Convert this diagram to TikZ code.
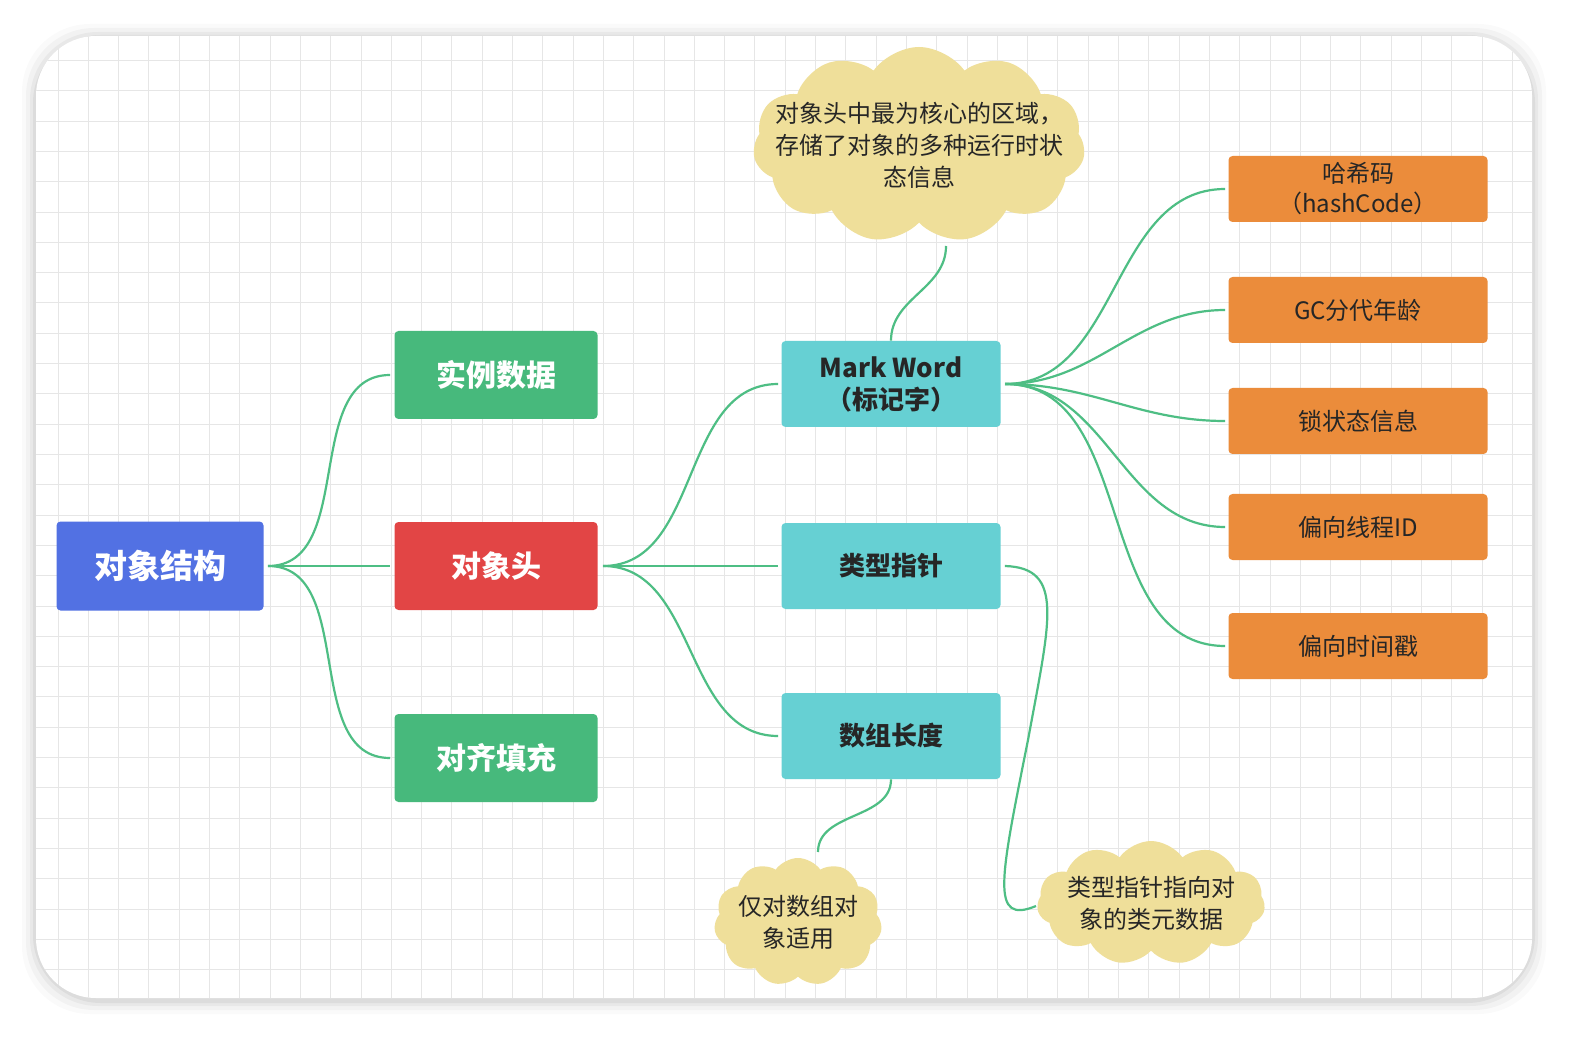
\documentclass[tikz,border=0pt]{standalone}
\usepackage{fontspec}
\setmainfont{Noto Sans CJK SC}
\usetikzlibrary{shapes.symbols}
\definecolor{rootc}{HTML}{5271E3}
\definecolor{greenc}{HTML}{47B97C}
\definecolor{redc}{HTML}{E24545}
\definecolor{tealc}{HTML}{66D0D3}
\definecolor{orangec}{HTML}{EB8C3B}
\definecolor{cloudc}{HTML}{EFDF9A}
\definecolor{linec}{HTML}{4EBE84}
\definecolor{gridc}{HTML}{E6E6E6}
\tikzset{
  box/.style={rectangle, rounded corners=2pt, inner sep=0pt, text=white, font=\bfseries\fontsize{15}{18}\selectfont, align=center},
  rootbox/.style={box, fill=rootc, minimum width=103.5pt, minimum height=44.5pt, font=\bfseries\fontsize{16.5}{20}\selectfont},
  gbox/.style={box, fill=greenc, minimum width=101.5pt, minimum height=44pt},
  rbox/.style={box, fill=redc, minimum width=101.5pt, minimum height=44pt},
  tbox/.style={box, fill=tealc, text=black!85, minimum width=109.5pt, minimum height=43pt, font=\bfseries\fontsize{13}{16}\selectfont},
  obox/.style={box, fill=orangec, text=black!85, minimum width=129.5pt, minimum height=33pt, font=\fontsize{12}{15}\selectfont},
  cl/.style={cloud, cloud puffs=11, cloud puff arc=110, aspect=1.7, fill=cloudc, inner sep=0pt},
  cltext/.style={align=center, font=\fontsize{12}{16}\selectfont, text=black!85, inner sep=0pt},
  conn/.style={draw=linec, line width=1.1pt}
}
\begin{document}
\begin{tikzpicture}[x=0.5pt,y=-0.5pt]
\useasboundingbox (0,0) rectangle (1578,1042);
\fill[white] (0,0) rectangle (1578,1042);
\foreach \i/\o in {14/0.02,10/0.03,6/0.04,3/0.05}{
  \fill[black,opacity=\o,rounded corners=34] (36-\i,38-\i) rectangle (1532+\i,1000+\i);
}
\fill[white,rounded corners=30] (36,36) rectangle (1532,998);
\begin{scope}
\clip[rounded corners=30] (36,36) rectangle (1532,998);
\foreach \x in {58,88.3,...,1532} \draw[gridc,line width=0.5pt] (\x,36) -- (\x,998);
\foreach \y in {0,30.3,...,998} \draw[gridc,line width=0.5pt] (36,\y) -- (1532,\y);
\end{scope}

\node[rootbox] (root) at (160,566) {对象结构};
\node[gbox] (inst) at (496,375) {实例数据};
\node[rbox] (head) at (496,566) {对象头};
\node[gbox] (pad) at (496,758) {对齐填充};
\node[tbox] (mw) at (891,384) {Mark Word\\（标记字）};
\node[tbox] (tp) at (891,566) {类型指针};
\node[tbox] (al) at (891,736) {数组长度};
\node[obox] (o1) at (1358,189) {哈希码\\（hashCode）};
\node[obox] (o2) at (1358,310) {GC分代年龄};
\node[obox] (o3) at (1358,421) {锁状态信息};
\node[obox] (o4) at (1358,527) {偏向线程ID};
\node[obox] (o5) at (1358,646) {偏向时间戳};

\node[cl, minimum width=166pt, minimum height=98pt] (c1) at (919,145) {};
\node[cltext] (t1) at (c1.center) {对象头中最为核心的区域，\\存储了对象的多种运行时状\\态信息};
\node[cl, minimum width=84pt, minimum height=64pt, aspect=1.3] (c2) at (798,922) {};
\node[cltext] (t2) at (c2.center) {仅对数组对\\象适用};
\node[cl, minimum width=114pt, minimum height=62pt] (c3) at (1151,903) {};
\node[cltext] (t3) at (c3.center) {类型指针指向对\\象的类元数据};

\coordinate (rootE) at (268,566);
\coordinate (headE) at (603,566);
\coordinate (mwE) at (1005,384);
\foreach \t in {inst,head,pad}
  \draw[conn] (rootE) to[out=0,in=180] ([xshift=-2pt]\t.west);
\foreach \t in {mw,tp,al}
  \draw[conn] (headE) to[out=0,in=180] ([xshift=-1.5pt]\t.west);
\foreach \t in {o1,o2,o3,o4,o5}
  \draw[conn] (mwE) to[out=0,in=180] ([xshift=-1.5pt]\t.west);
\coordinate (c1b) at (946,246);
\coordinate (c2t) at (818,852);
\coordinate (c3l) at (1036,906);
\draw[conn] (mw.north) to[out=90,in=-90] (c1b);
\draw[conn] (al.south) to[out=-90,in=90] (c2t);
\draw[conn] ([xshift=2pt]tp.east) .. controls (1065,568) and (1050,620) .. (1028,740)
  .. controls (1000,880) and (990,925) .. (c3l);
\end{tikzpicture}
\end{document}
